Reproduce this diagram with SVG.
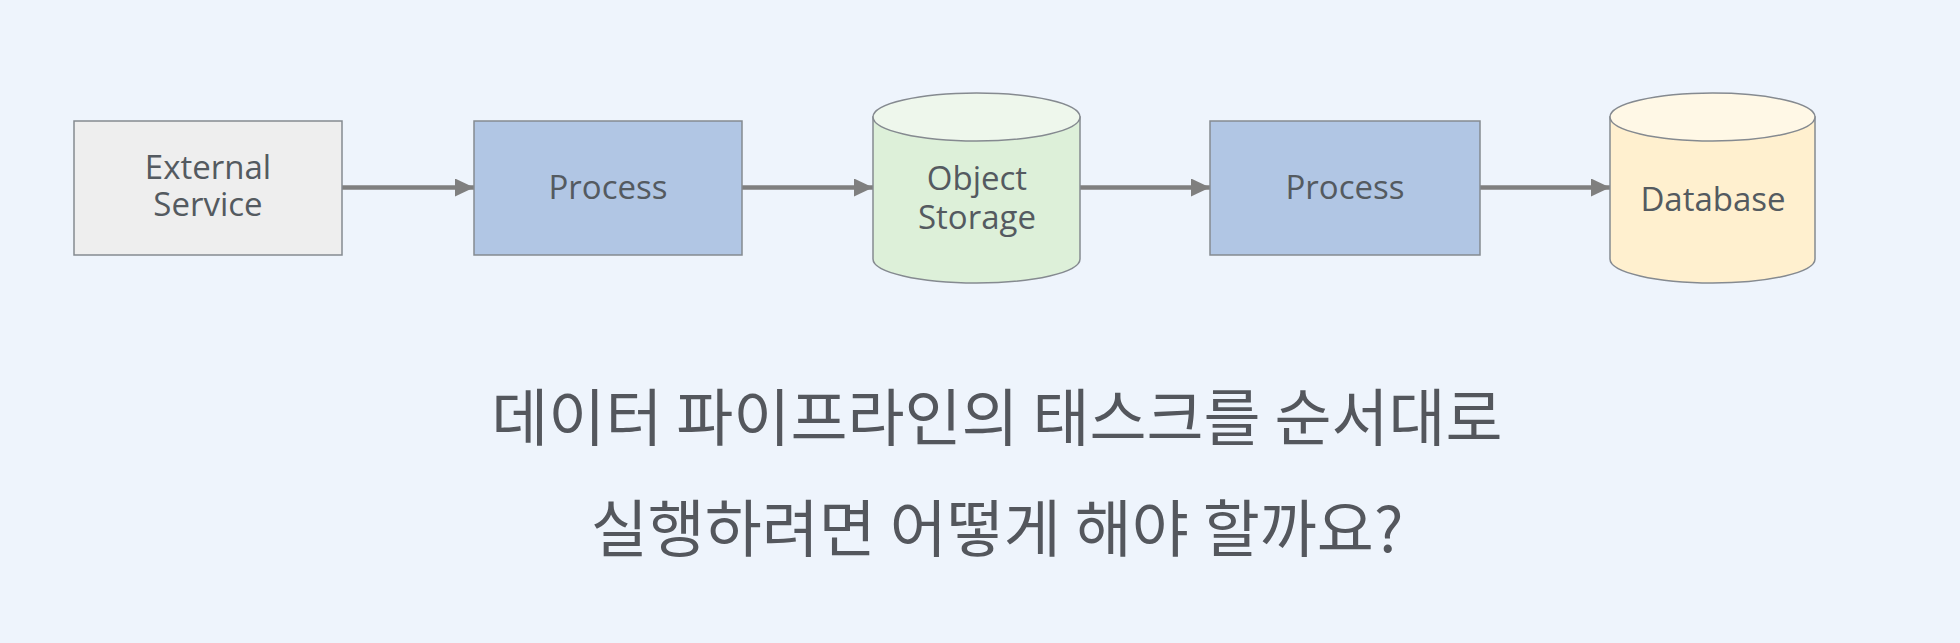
<svg xmlns="http://www.w3.org/2000/svg" width="1960" height="643" viewBox="0 0 1960 643">
<defs>
<style>
.box{stroke:#858a90;stroke-width:1.5}
.lbl{font-family:"Open Sans","Noto Sans",sans-serif;font-size:33px;fill:#545a60;text-anchor:middle}
.conn{stroke:#7f7f7f;stroke-width:4.5;fill:none}
.q{font-family:"Noto Sans CJK KR","Noto Sans",sans-serif;font-size:62px;font-weight:400;fill:#54575d;text-anchor:middle}
</style>
<marker id="ah" markerUnits="userSpaceOnUse" markerWidth="19" markerHeight="18" viewBox="0 0 19 18" refX="19" refY="9" orient="auto">
<path d="M0,0 L19,9 L0,18 Z" fill="#7f7f7f"/>
</marker>
</defs>
<rect width="1960" height="643" fill="#eef4fc"/>
<g id="connectors">
<line class="conn" x1="342" y1="187.5" x2="474" y2="187.5" marker-end="url(#ah)"/>
<line class="conn" x1="742" y1="187.5" x2="873" y2="187.5" marker-end="url(#ah)"/>
<line class="conn" x1="1080" y1="187.5" x2="1210" y2="187.5" marker-end="url(#ah)"/>
<line class="conn" x1="1480" y1="187.5" x2="1610" y2="187.5" marker-end="url(#ah)"/>
</g>
<g id="external-service">
<rect class="box" x="74" y="121" width="268" height="134" fill="#eeeeee"/>
<text class="lbl" x="208" y="179">External</text>
<text class="lbl" x="208" y="216">Service</text>
</g>
<g id="process-1">
<rect class="box" x="474" y="121" width="268" height="134" fill="#b1c6e4"/>
<text class="lbl" x="608" y="199">Process</text>
</g>
<g id="object-storage">
<path class="box" d="M873,117 L873,259 A103.5,24 0 0 0 1080,259 L1080,117 Z" fill="#ddf0d9"/>
<ellipse class="box" cx="976.5" cy="117" rx="103.5" ry="24" fill="#eef7ec"/>
<text class="lbl" x="977" y="190">Object</text>
<text class="lbl" x="977" y="229">Storage</text>
</g>
<g id="process-2">
<rect class="box" x="1210" y="121" width="270" height="134" fill="#b1c6e4"/>
<text class="lbl" x="1345" y="199">Process</text>
</g>
<g id="database">
<path class="box" d="M1610,117 L1610,259 A102.5,24 0 0 0 1815,259 L1815,117 Z" fill="#fff0cf"/>
<ellipse class="box" cx="1712.5" cy="117" rx="102.5" ry="24" fill="#fff8e6"/>
<text class="lbl" x="1713" y="211">Database</text>
</g>
<g id="question">
<text class="q" x="997" y="441">데이터 파이프라인의 태스크를 순서대로</text>
<text class="q" x="997" y="552">실행하려면 어떻게 해야 할까요?</text>
</g>
</svg>
